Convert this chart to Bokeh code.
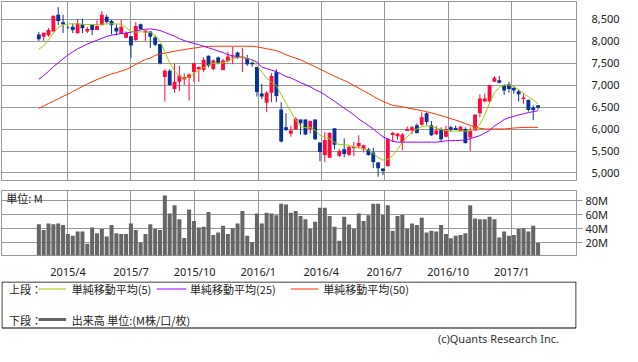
import pandas as pd
from bokeh.plotting import figure
from bokeh.models import Range1d, FixedTicker, ColumnDataSource, Grid, NumeralTickFormatter, Label
from bokeh.layouts import column
from bokeh.embed import file_html
from bokeh.resources import INLINE
from bokeh.core.properties import value

# ---------------- data (weekly candles) ----------------
WEEK_START = "2015-02-18"

OPEN = [8156, 8106, 8141, 8227, 8608, 8435, 8320, 8335, 8192, 8392,
        8227, 8392, 8263, 8371, 8565, 8464, 8313, 8177, 8084, 8120,
        8034, 8392, 8206, 8227, 8091, 7941, 7188, 7331, 6916, 7080,
        7130, 7166, 7303, 7367, 7350, 7672, 7372, 7636, 7350, 7550,
        7636, 7750, 7622, 7622, 7514, 7417, 6815, 6600, 6830, 7295,
        6450, 6041, 5897, 5991, 6220, 6220, 6005, 6220, 5696, 5409,
        5345, 6019, 5395, 5539, 5417, 5567, 5611, 5539, 5539, 5467,
        5238, 5101, 5151, 5869, 5840, 5697, 5955, 5969, 6090, 6098,
        6363, 6091, 5883, 6005, 5826, 6041, 6026, 5955, 6005, 5811,
        5969, 6363, 6629, 6629, 7080, 7116, 7009, 7023, 6937, 6866,
        6686, 6672, 6493, 6543]

HIGH = [8213, 8199, 8306, 8590, 8780, 8608, 8360, 8407, 8514, 8514,
        8335, 8392, 8478, 8694, 8608, 8493, 8392, 8493, 8227, 8120,
        8443, 8407, 8249, 8227, 8134, 7941, 7367, 7367, 7489, 7439,
        7274, 7274, 7504, 7430, 7640, 7680, 7590, 7657, 7600, 7764,
        7872, 7765, 7850, 7693, 7540, 7417, 7030, 6866, 7274, 7367,
        6615, 6363, 6077, 6270, 6220, 6220, 6198, 6220, 5696, 5933,
        5933, 6019, 5539, 5790, 5610, 5704, 5862, 5646, 5575, 5575,
        5252, 5101, 5783, 5940, 5912, 5912, 6062, 6077, 6127, 6385,
        6385, 6184, 6077, 6041, 6077, 6077, 6077, 6077, 6041, 6041,
        6342, 6794, 6815, 7009, 7210, 7210, 7023, 7080, 6973, 6901,
        6815, 6672, 6543, 6543]

LOW = [8012, 8012, 8106, 8227, 8371, 8192, 8290, 8192, 8170, 8192,
       8192, 8141, 8263, 8371, 8407, 8156, 8134, 8177, 8070, 7618,
       8012, 8263, 8012, 7848, 7890, 7475, 6629, 6990, 6830, 6866,
       7009, 6651, 7080, 7080, 7300, 7410, 7340, 7480, 7340, 7520,
       7480, 7600, 7300, 7443, 7420, 6744, 6686, 6385, 6615, 6615,
       5696, 5955, 5826, 5991, 5876, 5862, 5897, 5754, 5266, 5252,
       5345, 5539, 5360, 5360, 5381, 5381, 5553, 5467, 5395, 5108,
       4915, 4951, 5151, 5704, 5754, 5517, 5955, 5883, 5898, 6077,
       6098, 5840, 5862, 5696, 5811, 5933, 5983, 5955, 5668, 5503,
       5969, 6270, 6629, 6600, 7080, 7044, 6780, 6830, 6808, 6629,
       6578, 6400, 6206, 6450]

CLOSE = [8048, 8199, 8263, 8586, 8464, 8392, 8313, 8263, 8407, 8299,
         8284, 8263, 8349, 8608, 8443, 8371, 8227, 8335, 8192, 7905,
         8349, 8278, 8249, 8106, 7926, 7496, 7331, 7009, 7080, 7224,
         7188, 7245, 7504, 7417, 7580, 7443, 7564, 7514, 7564, 7657,
         7657, 7622, 7657, 7479, 7479, 6844, 6744, 6830, 7210, 6758,
         5718, 5983, 5969, 6234, 6134, 5876, 6184, 5768, 5481, 5754,
         5912, 5646, 5503, 5431, 5596, 5596, 5682, 5632, 5410, 5252,
         5108, 5044, 5783, 5912, 5898, 5876, 6005, 6041, 5912, 6270,
         6163, 5862, 5969, 5768, 6005, 5991, 5983, 6055, 5682, 5955,
         6327, 6701, 6701, 7009, 7174, 7059, 6880, 6916, 6880, 6794,
         6722, 6435, 6435, 6485]

MA5 = [7819, 7905, 8034, 8191, 8321, 8371, 8400, 8400, 8400, 8392,
       8385, 8385, 8385, 8392, 8400, 8400, 8400, 8392, 8321, 8228,
       8213, 8220, 8213, 8206, 8134, 8012, 7762, 7510, 7331, 7201,
       7152, 7188, 7274, 7345, 7402, 7460, 7503, 7488, 7510, 7561,
       7603, 7632, 7632, 7618, 7561, 7453, 7302, 7166, 7066, 6994,
       6786, 6593, 6399, 6205, 6061, 6032, 6040, 5968, 5861, 5818,
       5782, 5696, 5645, 5645, 5632, 5595, 5574, 5552, 5524, 5444,
       5358, 5294, 5308, 5394, 5538, 5696, 5825, 5932, 6004, 6054,
       6076, 6061, 6026, 5990, 5968, 5961, 5954, 5954, 5954, 5961,
       6004, 6112, 6326, 6600, 6829, 6951, 7001, 7008, 6973, 6900,
       6814, 6735, 6664, 6578]

MA25 = [7137, 7223, 7316, 7424, 7510, 7603, 7689, 7762, 7833, 7883,
        7941, 7983, 8027, 8069, 8113, 8142, 8162, 8177, 8191, 8213,
        8235, 8263, 8277, 8285, 8270, 8249, 8206, 8162, 8120, 8063,
        8019, 7983, 7955, 7926, 7890, 7855, 7819, 7782, 7747, 7696,
        7675, 7654, 7632, 7610, 7581, 7525, 7417, 7382, 7345, 7309,
        7259, 7201, 7166, 7115, 7058, 7015, 6965, 6900, 6850, 6786,
        6707, 6635, 6556, 6478, 6406, 6326, 6233, 6155, 6083, 6004,
        5911, 5825, 5774, 5725, 5703, 5703, 5703, 5703, 5703, 5703,
        5703, 5703, 5703, 5718, 5732, 5738, 5738, 5745, 5753, 5782,
        5818, 5853, 5911, 5968, 6076, 6140, 6219, 6262, 6291, 6326,
        6348, 6377, 6399, 6420]

MA50 = [6470, 6527, 6585, 6635, 6693, 6750, 6793, 6858, 6915, 6973,
        7030, 7080, 7130, 7174, 7216, 7259, 7287, 7324, 7360, 7410,
        7475, 7532, 7589, 7618, 7682, 7711, 7733, 7754, 7775, 7797,
        7811, 7833, 7848, 7862, 7883, 7883, 7890, 7890, 7890, 7890,
        7890, 7890, 7890, 7890, 7890, 7876, 7855, 7833, 7811, 7790,
        7747, 7696, 7654, 7618, 7581, 7525, 7475, 7424, 7367, 7316,
        7259, 7209, 7159, 7108, 7059, 6994, 6936, 6872, 6814, 6750,
        6686, 6635, 6585, 6542, 6527, 6507, 6485, 6463, 6441, 6420,
        6399, 6370, 6341, 6306, 6277, 6240, 6205, 6169, 6125, 6083,
        6047, 6019, 6004, 6004, 6004, 6004, 6004, 6012, 6026, 6032,
        6040, 6040, 6040, 6040]

VOLUME_M = [45.9, 37.8, 47.1, 45.9, 47.1, 44.8, 32.0, 29.7, 35.5, 35.5,
            18.5, 41.3, 33.1, 39.3, 28.5, 44.8, 33.1, 32.0, 32.0, 47.1,
            37.8, 20.0, 32.0, 45.9, 39.3, 37.8, 86.5, 61.0, 72.6, 52.9,
            26.6, 66.8, 50.6, 41.3, 42.4, 63.3, 30.8, 34.3, 43.6, 32.0,
            40.1, 47.1, 64.5, 29.7, 20.4, 61.0, 47.1, 62.2, 61.0, 58.7,
            74.9, 73.8, 62.2, 64.5, 57.5, 52.9, 39.3, 49.4, 69.1, 69.1,
            57.5, 42.4, 22.7, 56.4, 45.5, 39.7, 61.0, 50.6, 58.7, 74.9,
            74.9, 59.1, 72.6, 36.6, 57.5, 59.1, 39.7, 47.1, 44.8, 55.2,
            34.3, 36.6, 35.5, 44.8, 32.0, 26.2, 29.7, 30.8, 33.1, 72.6,
            54.0, 52.9, 52.9, 56.4, 52.9, 27.3, 35.5, 29.7, 30.8, 39.3,
            40.1, 35.5, 43.6, 19.6]

TICK_DATES = ["2015-04-01", "2015-07-01", "2015-10-01", "2016-01-01",
              "2016-04-01", "2016-07-01", "2016-10-01", "2017-01-01"]
TICK_LABELS = ["2015/4", "2015/7", "2015/10", "2016/1",
               "2016/4", "2016/7", "2016/10", "2017/1"]
PRICE_TICKS = [5000, 5500, 6000, 6500, 7000, 7500, 8000, 8500]
VOL_TICKS = [20, 40, 60, 80]
VOL_LABELS = ["20M", "40M", "60M", "80M"]

LEGEND_TOP = ["単純移動平均(5)", "単純移動平均(25)", "単純移動平均(50)"]
LEGEND_BOTTOM = "出来高 単位:(M株/口/枚)"

# ---------------- styling ----------------
UP = "#ff0a3c"
DOWN = "#0a3296"
C_MA5 = "#99cc00"
C_MA25 = "#9900ff"
C_MA50 = "#ff3300"
VOL_C = "#666666"
GRID_C = "#999999"
TXT = "#222222"
JP = "Noto Sans CJK JP"
LAT = "Noto Sans"
DAY = 86400000.0


def ms(d):
    return pd.Timestamp(d).value / 1e6


dates = pd.date_range(WEEK_START, periods=len(CLOSE), freq="7D")
colors = [UP if c >= o else DOWN for o, c in zip(OPEN, CLOSE)]
src = ColumnDataSource(dict(
    x=dates, open=OPEN, high=HIGH, low=LOW, close=CLOSE,
    top=[max(o, c) for o, c in zip(OPEN, CLOSE)],
    bottom=[min(o, c) for o, c in zip(OPEN, CLOSE)],
    color=colors, ma5=MA5, ma25=MA25, ma50=MA50, vol=VOLUME_M,
))

tick_ms = [int(ms(d)) for d in TICK_DATES]
x_range = Range1d(ms("2014-12-26 02:00"), ms("2017-04-04 12:00"))

# ---------------- price panel ----------------
p = figure(width=622, height=181, x_axis_type="datetime", x_range=x_range,
           y_range=Range1d(4806, 8910), x_axis_location=None, y_axis_location="right",
           toolbar_location=None, output_backend="svg",
           min_border_left=1, min_border_right=42, min_border_top=1, min_border_bottom=0)
p.grid.visible = False
p.add_layout(Grid(dimension=0, ticker=FixedTicker(ticks=tick_ms), grid_line_color=GRID_C))
p.add_layout(Grid(dimension=1, ticker=FixedTicker(ticks=PRICE_TICKS), grid_line_color=GRID_C))
p.outline_line_color = GRID_C
p.yaxis.ticker = FixedTicker(ticks=PRICE_TICKS)
p.yaxis.formatter = NumeralTickFormatter(format="0,0")
p.yaxis.axis_line_color = None
p.yaxis.major_tick_line_color = None
p.yaxis.minor_tick_line_color = None
p.yaxis.major_label_standoff = 9
p.yaxis.major_label_text_font = LAT
p.yaxis.major_label_text_font_size = "11px"
p.yaxis.major_label_text_color = TXT

p.segment(x0="x", y0="high", x1="x", y1="low", source=src, line_color="color", line_width=1)
p.vbar(x="x", top="top", bottom="bottom", width=5.6 * DAY, source=src,
       fill_color="color", line_color=None)
p.line(x="x", y="ma50", source=src, line_color=C_MA50, line_width=1)
p.line(x="x", y="ma25", source=src, line_color=C_MA25, line_width=1)
p.line(x="x", y="ma5", source=src, line_color=C_MA5, line_width=1)

# ---------------- volume panel ----------------
v = figure(width=622, height=100, x_axis_type="datetime", x_range=x_range,
           y_range=Range1d(1.8, 93.5), y_axis_location="right",
           toolbar_location=None, output_backend="svg",
           min_border_left=1, min_border_right=42, min_border_top=9, min_border_bottom=16)
v.grid.visible = False
v.add_layout(Grid(dimension=0, ticker=FixedTicker(ticks=tick_ms), grid_line_color=GRID_C))
v.add_layout(Grid(dimension=1, ticker=FixedTicker(ticks=VOL_TICKS), grid_line_color=GRID_C))
v.outline_line_color = GRID_C
v.vbar(x="x", top="vol", bottom=0, width=5.8 * DAY, source=src, fill_color=VOL_C, line_color=None)

v.xaxis.ticker = FixedTicker(ticks=tick_ms)
v.xaxis.major_label_overrides = {t: lab for t, lab in zip(tick_ms, TICK_LABELS)}
v.xaxis.axis_line_color = None
v.xaxis.major_tick_line_color = None
v.xaxis.minor_tick_line_color = None
v.xaxis.major_label_standoff = 2
v.xaxis.major_label_text_font = LAT
v.xaxis.major_label_text_font_size = "11px"
v.xaxis.major_label_text_color = TXT

v.yaxis.ticker = FixedTicker(ticks=VOL_TICKS)
v.yaxis.major_label_overrides = {t: lab for t, lab in zip(VOL_TICKS, VOL_LABELS)}
v.yaxis.axis_line_color = None
v.yaxis.major_tick_line_color = GRID_C
v.yaxis.major_tick_out = 6
v.yaxis.major_tick_in = 0
v.yaxis.minor_tick_line_color = None
v.yaxis.major_label_standoff = 3
v.yaxis.major_label_text_font = LAT
v.yaxis.major_label_text_font_size = "11px"
v.yaxis.major_label_text_color = TXT

v.add_layout(Label(x=ms("2015-01-02"), y=83.5, text="単位: M", text_font=JP,
                   text_font_size="11px", text_baseline="middle", text_color=TXT))

# ---------------- legend panel ----------------
leg = figure(width=622, height=64, x_range=Range1d(0, 622), y_range=Range1d(64, 0),
             x_axis_location=None, y_axis_location=None,
             toolbar_location=None, output_backend="svg", min_border=0)
leg.grid.visible = False
leg.outline_line_color = None
leg.quad(left=[0.5], right=[621.5], top=[0.5], bottom=[46.5], fill_color=None,
         line_color="#000000", line_width=1)

r1, r2 = 7.5, 38
leg.segment(x0=[40, 168, 313], y0=[r1] * 3, x1=[70, 200, 343], y1=[r1] * 3,
            line_color=[C_MA5, C_MA25, C_MA50], line_width=1)
leg.segment(x0=[40], y0=[r2], x1=[70], y1=[r2], line_color=VOL_C, line_width=3)
leg.text(x=[8, 76, 204, 348, 8, 76], y=[r1, r1, r1, r1, r2, r2],
         text=["上段："] + LEGEND_TOP + ["下段：", LEGEND_BOTTOM],
         text_font=value(JP), text_font_size=value("11px"), text_baseline="middle",
         text_color=TXT)
leg.text(x=[603], y=[56.5], text=["(c)Quants Research Inc."], text_font=value(LAT),
         text_font_size=value("11px"), text_baseline="middle", text_align="right",
         text_color="#333333")

layout = column(p, v, leg, spacing=0)
open("out.html", "w").write(file_html(layout, INLINE))
